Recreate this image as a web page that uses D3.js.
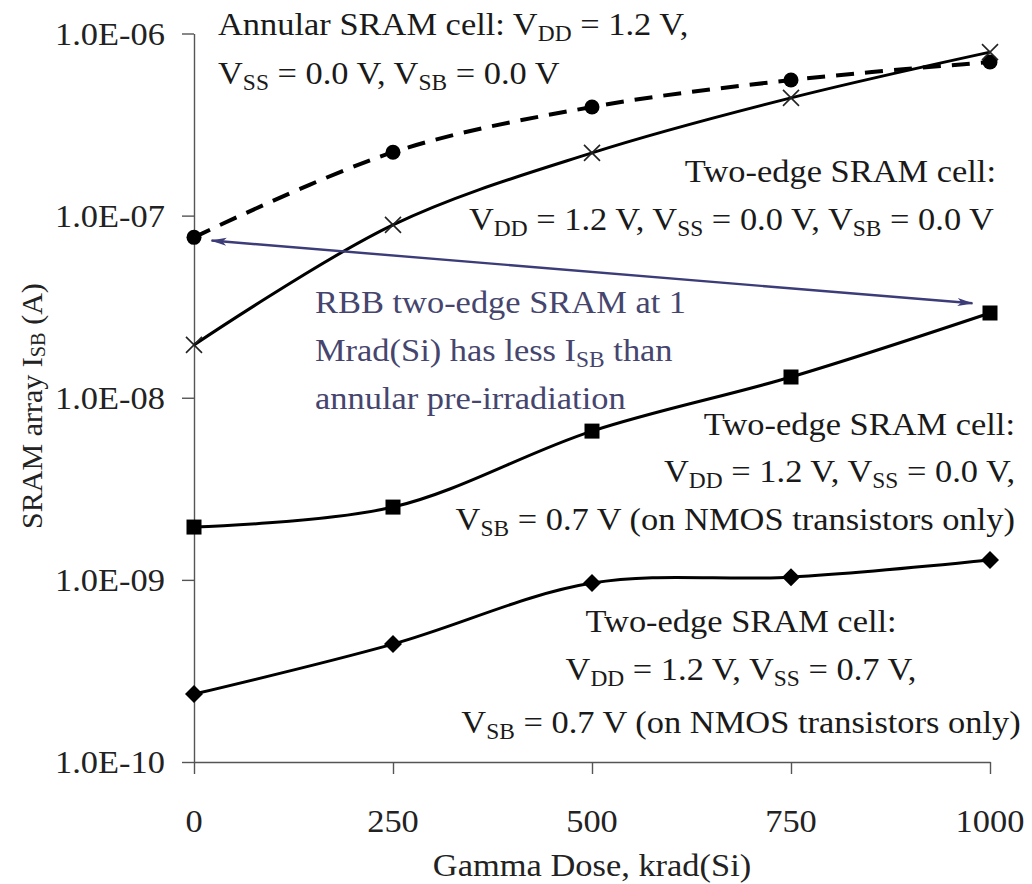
<!DOCTYPE html>
<html>
<head>
<meta charset="utf-8">
<script src="https://cdn.jsdelivr.net/npm/d3@7/dist/d3.min.js"></script>
<style>
  html, body { margin: 0; padding: 0; background: #fff; }
  svg { display: block; }
  svg text { font-family: "Liberation Serif", "Times New Roman", Times, serif; }
</style>
</head>
<body>
<script>
// Gamma dose points, krad(Si)
const doses = [0, 250, 500, 750, 1000];

// SRAM array standby current (A)
const annular        = [7.6e-8, 2.23e-7, 3.95e-7, 5.55e-7, 6.97e-7];
const twoEdge        = [1.95e-8, 8.9e-8, 2.21e-7, 4.43e-7, 7.9e-7];
const twoEdgeVsb     = [1.95e-9, 2.51e-9, 6.56e-9, 1.30e-8, 2.92e-8];
const twoEdgeVssVsb  = [2.36e-10, 4.44e-10, 9.6e-10, 1.035e-9, 1.285e-9];

// Axis ticks
const xTicks = [0, 250, 500, 750, 1000];
const yTicks = [1e-10, 1e-9, 1e-8, 1e-7, 1e-6];
const yTickLabels = ["1.0E-10", "1.0E-09", "1.0E-08", "1.0E-07", "1.0E-06"];

// Comparison arrow: [dose, current]
const arrowFrom = [22, 7.3e-8];
const arrowTo = [978, 3.3e-8];

const W = 1032, H = 884;
const FS = 32.5, SX = 1.06;

const svg = d3.select("body").append("svg")
  .attr("width", W).attr("height", H);

const x = d3.scaleLinear().domain([0, 1000]).range([194, 990]);
const y = d3.scaleLog().domain([1e-10, 1e-6]).range([762, 33.5]);

// text helper with runs: [[str, isSub], ...]
function rich(x0, y0, runs, anchor, color) {
  const t = svg.append("text")
    .attr("transform", `translate(${x0},${y0}) scale(${SX},1)`)
    .attr("text-anchor", anchor || "start")
    .attr("font-size", FS)
    .attr("fill", color || "#1a1a1a");
  let sub = false;
  runs.forEach(r => {
    const isSub = !!r[1];
    const ts = t.append("tspan").text(r[0]);
    if (isSub) { ts.attr("font-size", FS * 0.68); }
    if (isSub !== sub) ts.attr("dy", isSub ? 5.5 : -5.5);
    sub = isSub;
  });
  return t;
}

const axisColor = "#555";

// Y axis
const yAxis = d3.axisLeft(y).tickValues(yTicks).tickSize(12).tickSizeOuter(0).tickFormat("");
const gy = svg.append("g").attr("transform", `translate(${x(0)},0)`).call(yAxis);
gy.select(".domain").attr("stroke", axisColor).attr("stroke-width", 1.4);
gy.selectAll(".tick line").attr("stroke", axisColor).attr("stroke-width", 1.4);

yTicks.forEach((v, i) => {
  svg.append("text")
    .attr("transform", `translate(165,${y(v) + 11}) scale(${SX},1)`)
    .attr("text-anchor", "end")
    .attr("font-size", FS)
    .attr("fill", "#222")
    .text(yTickLabels[i]);
});

// X axis
const xAxis = d3.axisBottom(x).tickValues(xTicks).tickSize(12).tickSizeOuter(0).tickFormat("");
const gx = svg.append("g").attr("transform", `translate(0,${y(1e-10)})`).call(xAxis);
gx.select(".domain").attr("stroke", axisColor).attr("stroke-width", 1.4);
gx.selectAll(".tick line").attr("stroke", axisColor).attr("stroke-width", 1.4);

xTicks.forEach(v => {
  svg.append("text")
    .attr("transform", `translate(${x(v)},832) scale(${SX},1)`)
    .attr("text-anchor", "middle")
    .attr("font-size", FS)
    .attr("fill", "#222")
    .text(v);
});

// Axis titles
svg.append("text")
  .attr("transform", `translate(${x(500)},876) scale(${SX},1)`)
  .attr("text-anchor", "middle").attr("font-size", FS).attr("fill", "#222")
  .text("Gamma Dose, krad(Si)");

const YFS = 30;
const yt = svg.append("text")
  .attr("transform", `translate(42,406) rotate(-90)`)
  .attr("text-anchor", "middle").attr("font-size", YFS).attr("fill", "#222");
yt.append("tspan").text("SRAM array I");
yt.append("tspan").text("SB").attr("font-size", YFS * 0.68).attr("dy", 3);
yt.append("tspan").text(" (A)").attr("dy", -3);

// Series
const line = d3.line()
  .x((d, i) => x(doses[i]))
  .y(d => y(d))
  .curve(d3.curveCatmullRom.alpha(0.5));

svg.append("path").datum(annular).attr("d", line)
  .attr("fill", "none").attr("stroke", "#000").attr("stroke-width", 4)
  .attr("stroke-dasharray", "18,11");

[twoEdge, twoEdgeVsb, twoEdgeVssVsb].forEach(s => {
  svg.append("path").datum(s).attr("d", line)
    .attr("fill", "none").attr("stroke", "#000").attr("stroke-width", 3);
});

// Markers
svg.append("g").selectAll("circle").data(annular).join("circle")
  .attr("cx", (d, i) => x(doses[i])).attr("cy", d => y(d)).attr("r", 7.5).attr("fill", "#000");

svg.append("g").selectAll("path").data(twoEdge).join("path")
  .attr("transform", (d, i) => `translate(${x(doses[i])},${y(d)})`)
  .attr("d", "M-8,-8L8,8M-8,8L8,-8")
  .attr("stroke", "#222").attr("stroke-width", 1.6).attr("fill", "none");

svg.append("g").selectAll("rect").data(twoEdgeVsb).join("rect")
  .attr("x", (d, i) => x(doses[i]) - 7.5).attr("y", d => y(d) - 7.5)
  .attr("width", 15).attr("height", 15).attr("fill", "#000");

svg.append("g").selectAll("path").data(twoEdgeVssVsb).join("path")
  .attr("transform", (d, i) => `translate(${x(doses[i])},${y(d)})`)
  .attr("d", "M0,-9L9,0L0,9L-9,0Z").attr("fill", "#000");

// Arrow
const arrowColor = "#3c3c78";
const defs = svg.append("defs");
defs.append("marker").attr("id", "ah").attr("viewBox", "0 0 16 10")
  .attr("refX", 15).attr("refY", 5).attr("markerWidth", 16).attr("markerHeight", 10)
  .attr("markerUnits", "userSpaceOnUse").attr("orient", "auto-start-reverse")
  .append("path").attr("d", "M0,1 L16,5 L0,9 L4,5 Z").attr("fill", arrowColor);

svg.append("line")
  .attr("x1", x(arrowFrom[0])).attr("y1", y(arrowFrom[1]))
  .attr("x2", x(arrowTo[0])).attr("y2", y(arrowTo[1]))
  .attr("stroke", arrowColor).attr("stroke-width", 2.4)
  .attr("marker-start", "url(#ah)").attr("marker-end", "url(#ah)");

// Annotations
rich(218, 35, [["Annular SRAM cell: V"], ["DD", 1], [" = 1.2 V,"]]);
rich(218, 84, [["V"], ["SS", 1], [" = 0.0 V, V"], ["SB", 1], [" = 0.0 V"]]);

rich(996, 182, [["Two-edge SRAM cell:"]], "end");
rich(994, 230, [["V"], ["DD", 1], [" = 1.2 V, V"], ["SS", 1], [" = 0.0 V, V"], ["SB", 1], [" = 0.0 V"]], "end");

const rbb = "#45456e";
rich(315, 313, [["RBB two-edge SRAM at 1"]], "start", rbb);
rich(315, 361, [["Mrad(Si) has less I"], ["SB", 1], [" than"]], "start", rbb);
rich(315, 409, [["annular pre-irradiation"]], "start", rbb);

rich(1015, 435, [["Two-edge SRAM cell:"]], "end");
rich(1015, 482, [["V"], ["DD", 1], [" = 1.2 V, V"], ["SS", 1], [" = 0.0 V,"]], "end");
rich(1015, 530, [["V"], ["SB", 1], [" = 0.7 V (on NMOS transistors only)"]], "end");

rich(741, 632, [["Two-edge SRAM cell:"]], "middle");
rich(741, 680, [["V"], ["DD", 1], [" = 1.2 V, V"], ["SS", 1], [" = 0.7 V,"]], "middle");
rich(741, 733, [["V"], ["SB", 1], [" = 0.7 V (on NMOS transistors only)"]], "middle");
</script>
</body>
</html>
